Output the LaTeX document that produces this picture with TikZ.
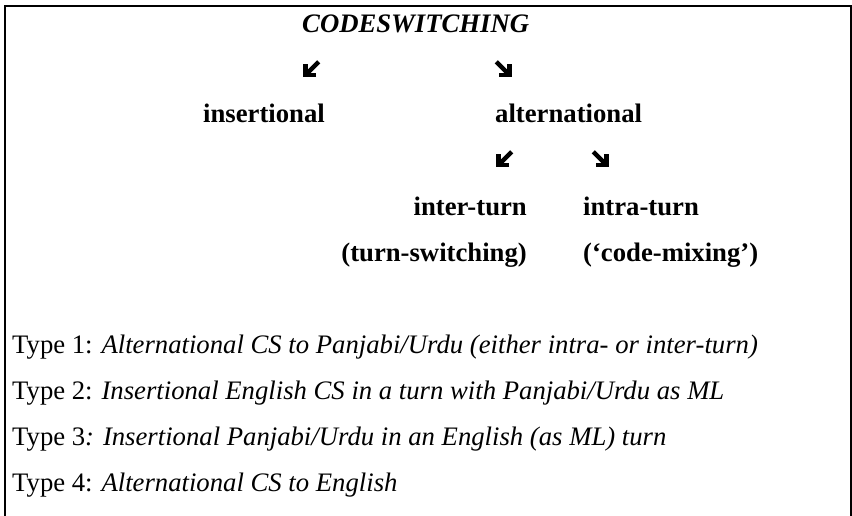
\documentclass[tikz,border=0pt]{standalone}
\usepackage{fontspec}
\setmainfont{Liberation Serif}
\usetikzlibrary{arrows.meta}
\tikzstyle{head} = [font=\fontsize{26.7}{32}\selectfont\bfseries\itshape, inner sep=0pt, anchor=base west]
\tikzstyle{term} = [font=\fontsize{26.7}{32}\selectfont\bfseries, inner sep=0pt]
\tikzstyle{typeline} = [font=\fontsize{26.7}{32}\selectfont, inner sep=0pt, anchor=base west]
\tikzstyle{glyph} = [inner sep=0pt, minimum size=15pt]
\tikzstyle{arr} = [line width=4.5pt, -{Straight Barb[length=7.5pt, width=15pt]}]

\begin{document}
\begin{tikzpicture}[x=1pt, y=-1pt]

\useasboundingbox (0,0) rectangle (852,516);
\draw [line width=2pt] (5,516) -- (5,6) -- (850.5,6) -- (850.5,516);

\node (cs) [head] at (302,33) {CODESWITCHING};
\node (ins) [term, anchor=base east] at (325,123) {insertional};
\node (alt) [term, anchor=base west] at (495,123) {alternational};
\node (inter) [term, anchor=base east] at (527,215) {inter-turn};
\node (intra) [term, anchor=base west] at (583,215) {intra-turn};
\node (ts) [term, anchor=base east] at (527,261) {(turn-switching)};
\node (cm) [term, anchor=base west] at (583,261) {(‘code-mixing’)};

% the four arrow glyphs
\node (g1) [glyph] at (311,69.5) {};
\node (g2) [glyph] at (504,69.5) {};
\node (g3) [glyph] at (504,159.5) {};
\node (g4) [glyph] at (601,159.5) {};
\draw [arr] (g1.north east) -- (g1.south west);
\draw [arr] (g2.north west) -- (g2.south east);
\draw [arr] (g3.north east) -- (g3.south west);
\draw [arr] (g4.north west) -- (g4.south east);

\node (t1) [typeline] at (12,353) {Type 1: \textit{Alternational CS to Panjabi/Urdu (either intra- or inter-turn)}};
\node (t2) [typeline] at (12,399) {Type 2: \textit{Insertional English CS in a turn with Panjabi/Urdu as ML}};
\node (t3) [typeline] at (12,445) {Type 3\textit{: Insertional Panjabi/Urdu in an English (as ML) turn}};
\node (t4) [typeline] at (12,491) {Type 4: \textit{Alternational CS to English}};

\end{tikzpicture}
\end{document}
